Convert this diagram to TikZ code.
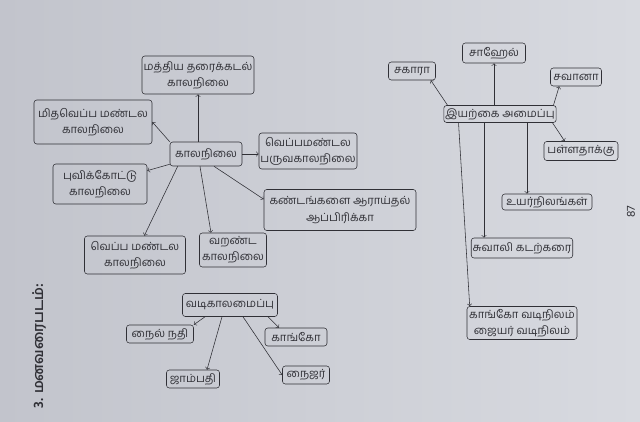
\documentclass[tikz,border=0pt]{standalone}
\usepackage{fontspec}
\newfontfamily\tamil[Script=Tamil]{Hind Madurai}
\usetikzlibrary{calc}
\definecolor{papier}{RGB}{194,196,204}
\definecolor{papierhell}{RGB}{216,218,224}
\definecolor{tinte}{RGB}{48,48,54}
\tikzset{
	>=to,
	petti/.style={
		rectangle, 
		rounded corners=2pt, 
		draw=tinte, thin,
		text=tinte,
		align=center, 
		inner sep=1pt,
		font=\tamil\fontsize{8}{11.5}\selectfont},
	ambu/.style={draw=tinte, thin, ->},
	thalaippu/.style={text=tinte, rotate=90, inner sep=0pt, font=\tamil\bfseries\fontsize{10}{12}\selectfont},
}
\begin{document}
\begin{tikzpicture}
			[x=0.025cm, y=-0.025cm]
			\shade[left color=papier, right color=papierhell] (0,0) rectangle (640,422);
			\useasboundingbox (0,0) rectangle (640,422);
			
			% kaalanilai
			\node[petti, minimum width=18mm, minimum height=6mm] (kalanilai) at (206,154) {காலநிலை};
			\node[petti, minimum width=28mm, minimum height=9.5mm] (mathiyam) at (198,75) {மத்திய தரைக்கடல்\\காலநிலை};
			\node[petti, minimum width=29.5mm, minimum height=11mm] (mithaveppam) at (93,122) {மிதவெப்ப மண்டல\\காலநிலை};
			\node[petti, minimum width=23.75mm, minimum height=9mm] (paruvam) at (308,151) {வெப்பமண்டல\\பருவகாலநிலை};
			\node[petti, minimum width=23.5mm, minimum height=10mm] (puvikkodu) at (100,184) {புவிக்கோட்டு\\காலநிலை};
			\node[petti, minimum width=38mm, minimum height=10.25mm] (kandangal) at (340,210) {கண்டங்களை ஆராய்தல்\\ஆப்பிரிக்கா};
			\node[petti, minimum width=25.25mm, minimum height=9.5mm] (veppam) at (135,255) {வெப்ப மண்டல\\காலநிலை};
			\node[petti, minimum width=16.75mm, minimum height=8.5mm] (varandam) at (233,250) {வறண்ட\\காலநிலை};
			
			\draw[ambu] (mathiyam.south |- kalanilai.north) -- (mathiyam.south);
			\draw[ambu] (kalanilai.north west) -- (mithaveppam.east);
			\draw[ambu] (kalanilai.east) -- (paruvam.west |- kalanilai.east);
			\draw[ambu] (kalanilai) -- (puvikkodu);
			\draw[ambu] ([xshift=2mm]kalanilai.south west) -- (veppam);
			\draw[ambu] ([xshift=-1.5mm]kalanilai.south) -- ([xshift=-5.5mm]varandam.north);
			\draw[ambu] ([xshift=2mm]kalanilai.south) -- ([yshift=-2.5mm]kandangal.north west);
			
			% vadikaal
			\node[petti, minimum width=23.75mm, minimum height=5.75mm] (vadikal) at (230,305) {வடிகாலமைப்பு};
			\node[petti, minimum width=16.75mm, minimum height=4.5mm] (nail) at (160,334) {நைல் நதி};
			\node[petti, minimum width=15.5mm, minimum height=4.5mm] (kango) at (296,337) {காங்கோ};
			\node[petti, minimum width=13.25mm, minimum height=4.5mm] (zambezi) at (193,379) {ஜாம்பதி};
			\node[petti, minimum width=11.75mm, minimum height=4.5mm] (naijar) at (306,375) {நைஜர்};
			
			\draw[ambu] ([xshift=-6.25mm]vadikal.south) -- (nail.north east);
			\draw[ambu] ([xshift=-2mm]vadikal.south) -- ([xshift=3.5mm]zambezi.north);
			\draw[ambu] ([xshift=3.25mm]vadikal.south) -- (naijar.west);
			\draw[ambu] ([xshift=9.5mm]vadikal.south) -- ([xshift=-4.25mm]kango.north);
			
			% iyarkai
			\node[petti, minimum width=27.25mm, minimum height=4.25mm] (iyarkai) at (500,114) {இயற்கை அமைப்பு};
			\node[petti, minimum width=15.75mm, minimum height=5mm] (sahel) at (494,53) {சாஹேல்};
			\node[petti, minimum width=11.75mm, minimum height=4.5mm] (sahara) at (412,71) {சகாரா};
			\node[petti, minimum width=12.75mm, minimum height=4.5mm] (savana) at (576,77) {சவானா};
			\node[petti, minimum width=18.5mm, minimum height=4.75mm] (pallam) at (581,151) {பள்ளதாக்கு};
			\node[petti, minimum width=22.5mm, minimum height=4mm] (uyar) at (547,202) {உயர்நிலங்கள்};
			\node[petti, minimum width=25.25mm, minimum height=5mm] (suvali) at (522,248) {சுவாலி கடற்கரை};
			\node[petti, minimum width=27.5mm, minimum height=8.25mm] (vadinilam) at (522,323) {காங்கோ வடிநிலம்\\ஜையர் வடிநிலம்};
			\coordinate (uyarmel) at ([xshift=-5mm]uyar.north);
			\coordinate (suvalimel) at ([xshift=-9.5mm]suvali.north);
			
			\draw[ambu] ([xshift=1mm]iyarkai.north west) -- ([xshift=-1.25mm]sahara.south east);
			\draw[ambu] (sahel.south |- iyarkai.north) -- (sahel.south);
			\draw[ambu] ([xshift=-0.75mm]iyarkai.north east) -- ([xshift=2.25mm]savana.south west);
			\draw[ambu] ([xshift=-1mm]iyarkai.south east) -- ([xshift=5.25mm]pallam.north west);
			\draw[ambu] (iyarkai.south -| uyarmel) -- (uyarmel);
			\draw[ambu] (iyarkai.south -| suvalimel) -- (suvalimel);
			\draw[ambu] ([xshift=3.75mm]iyarkai.south west) -- ([xshift=0.75mm]vadinilam.north west);
			
			\node[thalaippu] (thalaippu) at (39,346) {3. மனவரைபடம்:};
			\node[thalaippu, font=\tamil\fontsize{8.5}{10}\selectfont] (pakkam) at (631,212) {87};
			
			\end{tikzpicture}
\end{document}
